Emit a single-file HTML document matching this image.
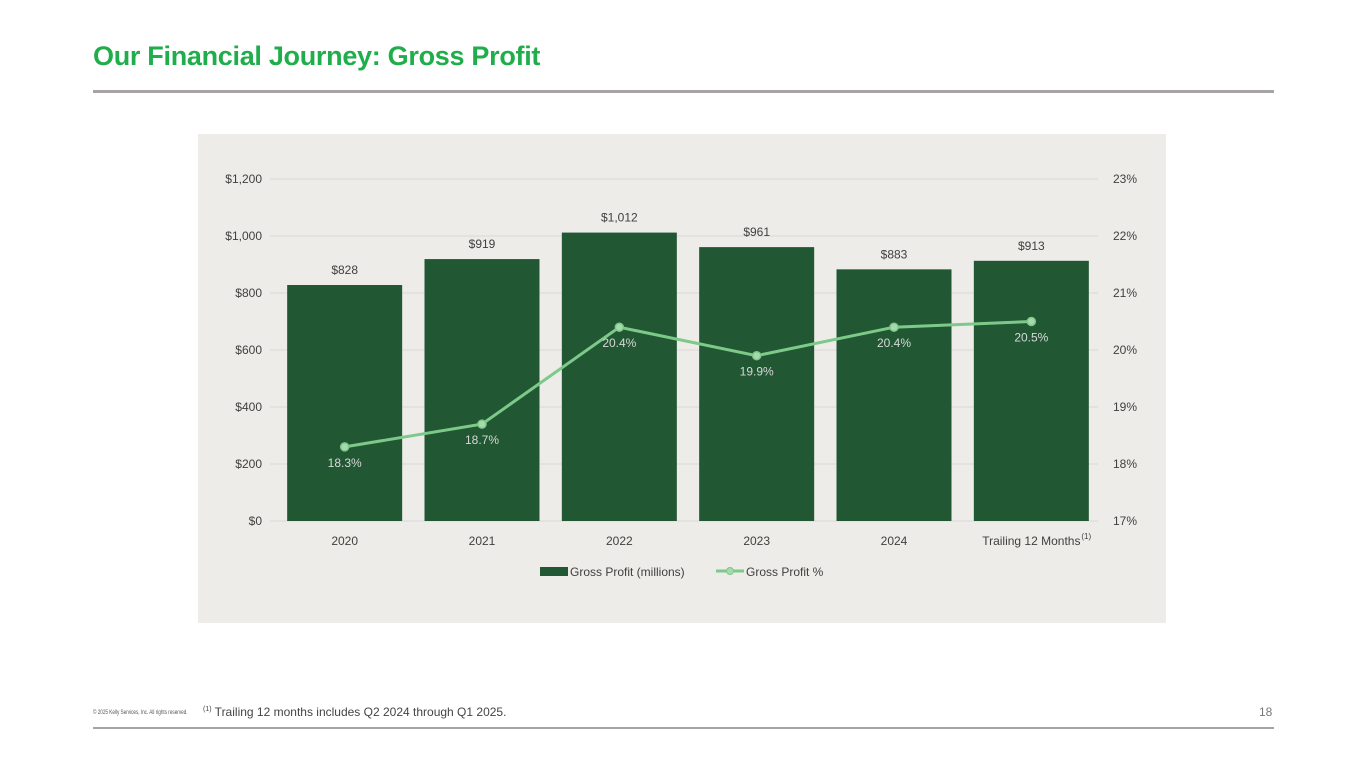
<!DOCTYPE html>
<html><head><meta charset="utf-8"><style>
body{margin:0;width:1365px;height:768px;background:#fff;font-family:"Liberation Sans",sans-serif;position:relative;overflow:hidden}
.title{position:absolute;left:93px;top:41px;font-size:27px;font-weight:bold;color:#1fae4b;letter-spacing:-0.3px}
.rule{position:absolute;left:93px;width:1181px;height:3px;background:#a7a3a3}
.panel{position:absolute;left:198px;top:134px;width:968px;height:489px;background:#eeece8}
.foot{position:absolute;font-size:11px;color:#555;white-space:nowrap}
</style></head><body>
<div class="title">Our Financial Journey: Gross Profit</div>
<div class="rule" style="top:90px"></div>
<div class="panel"></div>
<svg id="chart" width="1365" height="768" style="position:absolute;left:0;top:0"></svg>
<div class="foot" style="left:93px;top:710px;font-size:6px;transform:scaleX(0.77);transform-origin:left top">© 2025 Kelly Services, Inc. All rights reserved.</div>
<div class="foot" style="left:203px;top:705px;font-size:12px;color:#444"><sup style="font-size:7px">(1)</sup> Trailing 12 months includes Q2 2024 through Q1 2025.</div>
<div class="foot" style="left:1259px;top:705px;font-size:12px;color:#777">18</div>
<div class="rule" style="top:727px;height:2px"></div>
<script>
const categories=["2020","2021","2022","2023","2024","Trailing 12 Months"];
const grossProfit=[828,919,1012,961,883,913];
const grossPct=[18.3,18.7,20.4,19.9,20.4,20.5];
const leftTicks=[0,200,400,600,800,1000,1200];
const rightTicks=[17,18,19,20,21,22,23];
const NS="http://www.w3.org/2000/svg";
const svg=document.getElementById('chart');
const x0=276,x1=1100,yB=521,yT=179;
const bw=(x1-x0)/categories.length;
const yL=v=>yB-(v/1200)*(yB-yT);
const yR=v=>yB-((v-17)/6)*(yB-yT);
const xc=i=>x0+bw*(i+0.5);
function mk(t,a,txt){const e=document.createElementNS(NS,t);for(const k in a)e.setAttribute(k,a[k]);if(txt!==undefined)e.textContent=txt;svg.appendChild(e);return e;}
leftTicks.forEach((v,i)=>{
 let g=mk('line',{x1:270,x2:1098,y1:yL(v),y2:yL(v),stroke:'#d9d9d9','stroke-width':1});
 
 
 let t=mk('text',{x:262,y:yL(v)+4,'text-anchor':'end','font-size':12,fill:'#404040'},'$'+v.toLocaleString('en-US'));
 
 
});
rightTicks.forEach(v=>{
 let t=mk('text',{x:1113,y:yR(v)+4,'font-size':12,fill:'#404040'},v+'%');
 
 
});
categories.forEach((c,i)=>{
 let b=mk('rect',{x:xc(i)-57.5,y:yL(grossProfit[i]),width:115,height:yB-yL(grossProfit[i]),fill:'#215732'});
 
 
 let l=mk('text',{x:xc(i),y:yL(grossProfit[i])-11,'text-anchor':'middle','font-size':12,fill:'#404040'},'$'+grossProfit[i].toLocaleString('en-US'));
 
 
 let xl=mk('text',{x:xc(i),y:545,'text-anchor':'middle','font-size':12,fill:'#404040'},c);
 
 
 if(i===5){let s=mk('text',{x:xc(i)+50,y:539,'font-size':8,fill:'#404040'},'(1)');}
});
let pts=grossPct.map((v,i)=>xc(i)+','+yR(v)).join(' ');
let pl=mk('polyline',{points:pts,fill:'none',stroke:'#7dc98a','stroke-width':3});


grossPct.forEach((v,i)=>{
 let c=mk('circle',{cx:xc(i),cy:yR(v),r:4,fill:'#a8d9ae',stroke:'#7dc98a','stroke-width':1.5});
 
 
 let t=mk('text',{x:xc(i),y:yR(v)+20,'text-anchor':'middle','font-size':12,fill:'#d8d8d8'},v.toFixed(1)+'%');
 
 
});
let lg1=mk('rect',{x:540,y:567,width:28,height:9,fill:'#215732'});


let lt1=mk('text',{x:570,y:576,'font-size':12,fill:'#404040'},'Gross Profit (millions)');


let lg2=mk('line',{x1:716,x2:744,y1:571,y2:571,stroke:'#7dc98a','stroke-width':3});


let lc=mk('circle',{cx:730,cy:571,r:3.5,fill:'#a8d9ae',stroke:'#7dc98a'});


let lt2=mk('text',{x:746,y:576,'font-size':12,fill:'#404040'},'Gross Profit %');


</script>
</body></html>
